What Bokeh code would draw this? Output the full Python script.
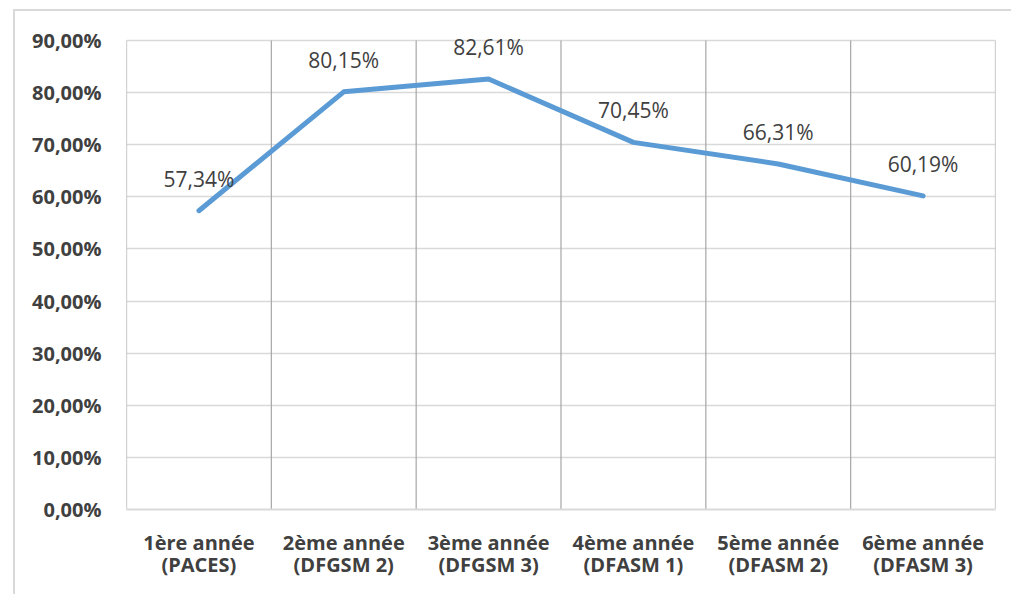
from bokeh.plotting import figure
from bokeh.models import Range1d, FixedTicker, ColumnDataSource, LabelSet
from bokeh.core.properties import value
from bokeh.embed import file_html
from bokeh.resources import INLINE

categories = ["1ère année\n(PACES)", "2ème année\n(DFGSM 2)", "3ème année\n(DFGSM 3)",
              "4ème année\n(DFASM 1)", "5ème année\n(DFASM 2)", "6ème année\n(DFASM 3)"]
values = [57.34, 80.15, 82.61, 70.45, 66.31, 60.19]
value_labels = ["57,34%", "80,15%", "82,61%", "70,45%", "66,31%", "60,19%"]
y_ticks = [0, 10, 20, 30, 40, 50, 60, 70, 80, 90]
y_tick_labels = ["0,00%", "10,00%", "20,00%", "30,00%", "40,00%", "50,00%",
                 "60,00%", "70,00%", "80,00%", "90,00%"]

n = len(categories)
xpos = [i + 0.5 for i in range(n)]
src = ColumnDataSource(dict(x=xpos, y=values, lab=value_labels))
bounds = list(range(n + 1))
ymax = max(y_ticks)

p = figure(width=1011, height=594, output_backend="svg", toolbar_location=None,
           x_range=Range1d(0, n), y_range=Range1d(0, ymax * 479 / 469),
           min_border_left=126, min_border_top=30, min_border_right=16, min_border_bottom=85)
p.styles = {
    "background-image": "linear-gradient(#d9d9d9, #d9d9d9), linear-gradient(#d9d9d9, #d9d9d9)",
    "background-size": "2px 100%, 100% 2px",
    "background-position": "13px 9px, 13px 9px",
    "background-repeat": "no-repeat",
}
p.outline_line_color = None
p.background_fill_color = "white"
p.border_fill_alpha = 0

# grids
p.xgrid.visible = False
p.ygrid.ticker = FixedTicker(ticks=y_ticks)
p.ygrid.grid_line_color = "#d9d9d9"
p.ygrid.grid_line_width = 1.5
p.segment(x0=bounds, x1=bounds, y0=[0] * len(bounds), y1=[ymax] * len(bounds),
          line_color="#a6a6a6", line_width=1.2)

# axes
p.xaxis.ticker = FixedTicker(ticks=xpos)
p.xaxis.major_label_overrides = {x: c for x, c in zip(xpos, categories)}
p.yaxis.ticker = FixedTicker(ticks=y_ticks)
p.yaxis.major_label_overrides = {t: l for t, l in zip(y_ticks, y_tick_labels)}
for ax in (p.xaxis[0], p.yaxis[0]):
    ax.major_tick_line_color = None
    ax.minor_tick_line_color = None
    ax.major_label_text_font = "Open Sans"
    ax.major_label_text_font_style = "bold"
    ax.major_label_text_font_size = "20px"
    ax.major_label_text_color = "#404040"
p.yaxis.axis_line_color = None
p.yaxis.major_label_standoff = 19
p.xaxis.axis_line_color = "#d9d9d9"
p.xaxis.axis_line_width = 2
p.xaxis.major_label_standoff = 13
p.xaxis.major_label_text_line_height = 0.85

p.line("x", "y", source=src, line_color="#5b9bd5", line_width=5, line_join="round", line_cap="round")

labels = LabelSet(x="x", y="y", text="lab", source=src, y_offset=32, text_align="center",
                  text_baseline="middle", text_font=value("Open Sans"), text_font_size="21px",
                  text_color="#404040")
p.add_layout(labels)

open("out.html", "w").write(file_html(p, INLINE))
